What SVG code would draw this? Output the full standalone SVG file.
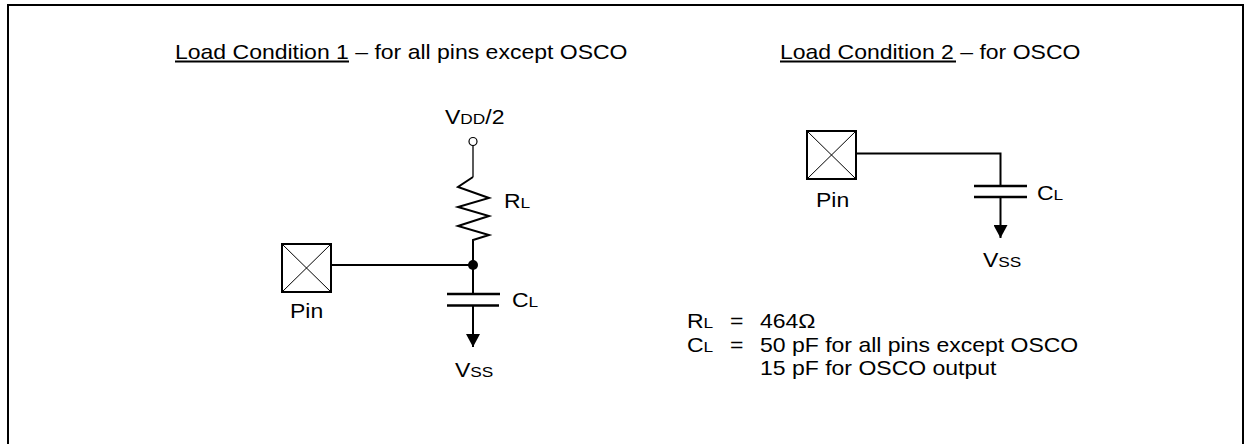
<svg xmlns="http://www.w3.org/2000/svg" xmlns:xlink="http://www.w3.org/1999/xlink" width="1251" height="444" viewBox="0 0 1251 444">
<style>
  text { font-family: "Liberation Sans", Arial, sans-serif; font-size: 20px; fill: #000; }
  .sub { font-size: 15px; }
  .wire { stroke: #000; stroke-width: 2; fill: none; }
  .thin { stroke: #000; stroke-width: 1.3; fill: none; }
  .plate { stroke: #000; stroke-width: 2.5; fill: none; }
  .ul { stroke: #000; stroke-width: 2; }
</style>
<defs>
  <marker id="gnd" markerUnits="userSpaceOnUse" markerWidth="14" markerHeight="14" refX="13" refY="7" orient="auto">
    <path d="M0,0 L13,7 L0,14 Z" fill="#000"/>
  </marker>
  <g id="pinbox">
    <rect x="0" y="0" width="49" height="48" fill="#fff" stroke="#000" stroke-width="2"/>
    <path d="M0,0 L49,48 M49,0 L0,48" stroke="#000" stroke-width="1"/>
  </g>
</defs>
<rect x="0" y="0" width="1251" height="444" fill="#fff"/>
<path d="M8,444 V5 H1243 V444" fill="none" stroke="#000" stroke-width="2"/>

<g id="titles">
  <text transform="translate(175,59) scale(1.15,1)">Load Condition 1 – for all pins except OSCO</text>
  <line class="ul" x1="175" y1="61.5" x2="349" y2="61.5"/>
  <text transform="translate(780,59) scale(1.15,1)">Load Condition 2 – for OSCO</text>
  <line class="ul" x1="780" y1="61.5" x2="956" y2="61.5"/>
</g>

<g id="connectors">
  <line class="thin" x1="473" y1="145.5" x2="473" y2="177"/>
  <polyline class="wire" points="473,177 458,187 489,198 458,207 489,216 458,226 489,235 473,240 473,294"/>
  <line class="wire" x1="331" y1="265" x2="473" y2="265"/>
  <line class="wire" x1="473" y1="305.5" x2="473" y2="347" marker-end="url(#gnd)"/>
  <polyline class="wire" points="857,153.5 1000.5,153.5 1000.5,186"/>
  <line class="wire" x1="1000.5" y1="197" x2="1000.5" y2="238" marker-end="url(#gnd)"/>
</g>

<g id="vdd">
  <circle cx="473" cy="141.5" r="4" fill="#fff" stroke="#000" stroke-width="1.2"/>
  <text transform="translate(445,124) scale(1.15,1)">V<tspan class="sub">DD</tspan>/2</text>
</g>
<g id="rl1">
  <text transform="translate(504,208) scale(1.15,1)">R<tspan class="sub">L</tspan></text>
</g>
<g id="junction">
  <circle cx="473" cy="265" r="5" fill="#000"/>
</g>
<g id="pin1">
  <use xlink:href="#pinbox" x="282" y="244"/>
  <text transform="translate(290,318) scale(1.15,1)">Pin</text>
</g>
<g id="cl1">
  <line class="plate" x1="447" y1="294" x2="500" y2="294"/>
  <line class="plate" x1="447" y1="305.5" x2="499" y2="305.5"/>
  <text transform="translate(512,307) scale(1.15,1)">C<tspan class="sub">L</tspan></text>
</g>
<g id="vss1">
  <text transform="translate(455,377) scale(1.15,1)">V<tspan class="sub">SS</tspan></text>
</g>

<g id="pin2">
  <use xlink:href="#pinbox" x="807" y="131"/>
  <text transform="translate(816,207) scale(1.15,1)">Pin</text>
</g>
<g id="cl2">
  <line class="plate" x1="974" y1="186" x2="1027" y2="186"/>
  <line class="plate" x1="974" y1="197" x2="1027" y2="197"/>
  <text transform="translate(1037,200) scale(1.15,1)">C<tspan class="sub">L</tspan></text>
</g>
<g id="vss2">
  <text transform="translate(983,267) scale(1.15,1)">V<tspan class="sub">SS</tspan></text>
</g>

<g id="legend">
  <text transform="translate(687,328) scale(1.15,1)">R<tspan class="sub">L</tspan></text>
  <text transform="translate(730,328) scale(1.15,1)">=</text>
  <text transform="translate(760,328) scale(1.15,1)">464Ω</text>
  <text transform="translate(687,352) scale(1.15,1)">C<tspan class="sub">L</tspan></text>
  <text transform="translate(730,352) scale(1.15,1)">=</text>
  <text transform="translate(760,352) scale(1.15,1)">50 pF for all pins except OSCO</text>
  <text transform="translate(760,375) scale(1.15,1)">15 pF for OSCO output</text>
</g>
</svg>
